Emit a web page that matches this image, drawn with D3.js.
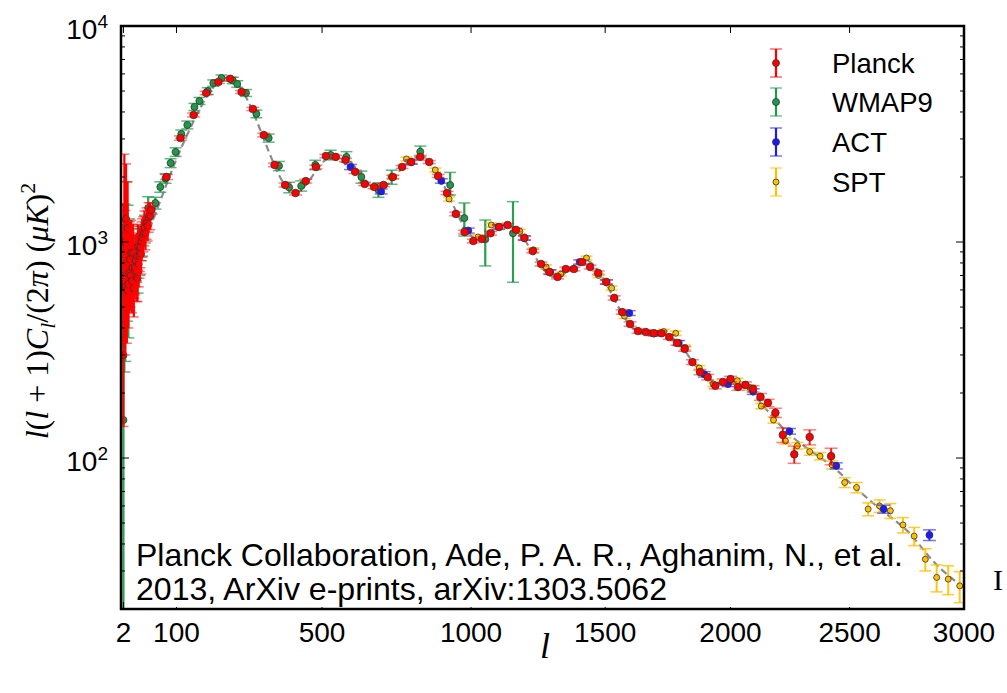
<html>
<head>
<meta charset="utf-8">
<title>CMB TT power spectrum</title>
<script src="https://d3js.org/d3.v7.min.js"></script>
<style>
  body { margin: 0; background: #fff; }
  svg { display: block; }
</style>
</head>
<body>
<div id="chart"></div>
<script>
  // ---- data ----
  // best-fit model curve
  const theoryL = [2, 4, 7, 10, 15, 20, 30, 40, 50, 60, 70, 80, 90, 100, 115, 130, 145, 160, 175, 190, 205, 220, 235, 250, 265, 280, 295, 310, 325, 340, 355, 370, 385, 400, 415, 430, 445, 460, 475, 490, 505, 520, 535, 550, 565, 580, 595, 610, 625, 640, 655, 670, 685, 700, 715, 730, 745, 760, 775, 790, 805, 820, 835, 850, 865, 880, 895, 910, 925, 940, 955, 970, 985, 1000, 1020, 1040, 1060, 1080, 1100, 1120, 1140, 1160, 1180, 1200, 1220, 1240, 1260, 1280, 1300, 1320, 1340, 1360, 1380, 1400, 1420, 1440, 1460, 1480, 1500, 1520, 1540, 1560, 1580, 1600, 1630, 1660, 1690, 1720, 1750, 1780, 1810, 1840, 1870, 1900, 1930, 1960, 1990, 2020, 2050, 2080, 2110, 2140, 2170, 2200, 2250, 2300, 2350, 2400, 2450, 2500, 2550, 2600, 2650, 2700, 2750, 2800, 2850, 2900, 2950, 3000]
  const theoryD = [1020, 880, 820, 800, 800, 830, 920, 1080, 1260, 1450, 1660, 1900, 2150, 2420, 2850, 3300, 3800, 4300, 4800, 5230, 5560, 5740, 5720, 5480, 5050, 4550, 4020, 3500, 3030, 2630, 2300, 2040, 1860, 1750, 1700, 1720, 1800, 1920, 2070, 2220, 2360, 2460, 2520, 2530, 2490, 2410, 2300, 2170, 2040, 1920, 1830, 1780, 1760, 1790, 1860, 1960, 2080, 2200, 2310, 2400, 2460, 2480, 2450, 2370, 2250, 2100, 1930, 1760, 1600, 1450, 1320, 1210, 1130, 1070, 1030, 1030, 1060, 1110, 1160, 1190, 1190, 1150, 1080, 1000, 910, 830, 760, 715, 690, 690, 710, 745, 780, 810, 825, 810, 770, 715, 650, 590, 530, 480, 440, 410, 385, 378, 378, 377, 368, 348, 318, 286, 258, 238, 226, 222, 222, 220, 213, 202, 188, 172, 157, 144, 127, 115, 105, 96, 87, 77, 69, 62, 56, 51, 46, 40, 34.5, 30.5, 27.5, 25]

  // Planck, low multipoles (asymmetric errors)
  const planckLowL = [2, 3, 4, 5, 6, 7, 8, 9, 10, 11, 12, 13, 14, 15, 16, 17, 18, 19, 20, 21, 22, 23, 24, 25, 26, 27, 28, 29, 30, 32, 34, 36, 38, 40, 42, 45]
  const planckLowD = [299, 1000, 620, 1280, 600, 1160, 640, 720, 830, 700, 890, 660, 760, 890, 610, 740, 760, 820, 690, 860, 680, 950, 790, 860, 920, 948, 880, 1010, 1050, 1090, 1161, 1100, 1220, 1190, 1300, 1319]
  const planckLowLo = [140, 420, 300, 700, 340, 700, 400, 470, 560, 480, 620, 470, 550, 650, 450, 550, 570, 620, 530, 660, 530, 740, 620, 680, 730, 760, 710, 820, 850, 900, 960, 920, 1030, 1010, 1110, 1140]
  const planckLowHi = [1500, 2550, 1400, 2300, 1050, 1900, 1050, 1120, 1240, 1030, 1260, 930, 1050, 1210, 820, 990, 1000, 1070, 900, 1100, 870, 1200, 1000, 1080, 1150, 1180, 1090, 1240, 1280, 1310, 1390, 1310, 1440, 1400, 1520, 1520]

  // Planck, binned
  const planckL = [47, 78, 109, 140, 171, 202, 233, 264, 295, 326, 357, 388, 419, 450, 481, 512, 543, 574, 605, 636, 667, 698, 729, 760, 791, 822, 853, 884, 915, 946, 977, 1008, 1039, 1070, 1101, 1132, 1163, 1194, 1225, 1256, 1287, 1318, 1349, 1380, 1411, 1442, 1473, 1504, 1535, 1566, 1597, 1628, 1659, 1690, 1721, 1752, 1783, 1814, 1845, 1876, 1907, 1938, 1969, 2000, 2031, 2062, 2093, 2124, 2155, 2186, 2217, 2265, 2330, 2421]
  const planckD = [1407, 2000, 3030, 3874, 4897, 5508, 5700, 4950, 4130, 3128, 2274, 1836, 1686, 1914, 2225, 2500, 2477, 2398, 2112, 1857, 1798, 1836, 2000, 2226, 2346, 2477, 2346, 2022, 1686, 1349, 1112, 1011, 1033, 1097, 1174, 1199, 1138, 1044, 908, 791, 726, 689, 750, 750, 808, 766, 719, 653, 551, 474, 417, 387, 383, 378, 378, 363, 341, 320, 278, 250, 237, 216, 225, 232, 213, 218, 209, 192, 180, 162, 128, 104, 125, 102]
  const planckErr = [60, 55, 70, 80, 90, 90, 90, 80, 70, 60, 45, 40, 35, 38, 42, 45, 45, 42, 38, 34, 32, 32, 34, 36, 38, 40, 38, 34, 30, 26, 22, 20, 20, 21, 22, 22, 21, 20, 18, 16, 15, 14, 15, 15, 16, 15, 15, 14, 12, 11, 10, 9, 9, 9, 9, 9, 8, 8, 7, 7, 7, 7, 7, 7, 7, 7, 7, 7, 7, 8, 10, 9.5, 10, 9]

  // WMAP9
  const wmapL = [2, 3, 4, 5, 6, 7, 8, 9, 10, 12, 14, 16, 18, 20, 22, 25, 27, 30, 35, 41, 55, 65, 76, 87, 98, 111, 125, 142, 154, 175, 189, 210, 240, 252, 276, 305, 340, 370, 400, 436, 479, 527, 577, 625, 681, 725, 822, 926, 976, 1051, 1152]
  const wmapD = [150, 700, 650, 1100, 760, 950, 560, 890, 720, 860, 800, 760, 850, 820, 720, 860, 990, 1020, 1150, 1438, 1516, 1798, 1970, 2322, 2612, 3165, 3483, 4220, 4500, 5000, 5446, 5740, 5600, 5390, 4900, 3918, 3030, 2250, 1790, 1817, 2274, 2528, 2477, 2000, 1742, 2000, 2620, 1836, 1291, 1030, 1097]
  const wmapLo = [5, 250, 280, 560, 430, 570, 360, 600, 500, 630, 600, 580, 660, 650, 580, 700, 820, 860, 990, 1270, 1420, 1700, 1870, 2210, 2490, 3030, 3340, 4060, 4330, 4820, 5260, 5550, 5410, 5200, 4720, 3760, 2900, 2140, 1690, 1720, 2160, 2400, 2340, 1870, 1610, 1850, 2480, 1650, 1066, 775, 651]
  const wmapHi = [1200, 1500, 1250, 1900, 1250, 1480, 850, 1280, 1020, 1150, 1050, 980, 1080, 1030, 900, 1050, 1180, 1200, 1330, 1620, 1610, 1900, 2070, 2430, 2730, 3300, 3630, 4380, 4670, 5180, 5630, 5930, 5790, 5580, 5080, 4080, 3160, 2360, 1890, 1920, 2390, 2660, 2620, 2130, 1880, 2150, 2780, 2100, 1516, 1264, 1538]

  // ACT
  const actL = [590, 690, 791, 895, 990, 1099, 1194, 1290, 1402, 1505, 1594, 1694, 1790, 1893, 1990, 2094, 2245, 2443, 2647, 2847]
  const actD = [2225, 1714, 2346, 1918, 1130, 1174, 1044, 726, 808, 653, 469, 378, 341, 244, 220, 203, 133, 92, 58, 44]
  const actErr = [60, 45, 55, 45, 30, 30, 25, 18, 18, 15, 12, 10, 9, 7, 6, 6, 4, 3, 2.5, 2.5]

  // SPT
  const sptL = [672, 730, 775, 874, 922, 1025, 1073, 1177, 1228, 1275, 1330, 1428, 1474, 1525, 1575, 1682, 1730, 1778, 1816, 1873, 1929, 2028, 2080, 2127, 2178, 2228, 2278, 2330, 2374, 2425, 2479, 2530, 2580, 2629, 2676, 2731, 2780, 2829, 2879, 2930, 2981]
  const sptD = [1800, 2000, 2424, 2154, 1582, 1055, 1199, 1120, 920, 766, 710, 843, 700, 612, 454, 378, 385, 378, 325, 261, 220, 228, 212, 174, 150, 120, 114, 107, 102, 93, 77, 73, 58, 60, 57, 49, 43.5, 34, 28, 27.5, 25.6]
  const sptErr = [45, 45, 50, 45, 35, 25, 25, 24, 20, 17, 15, 17, 15, 13, 11, 9, 9, 9, 8, 7, 6, 6, 6, 5, 5, 4, 4, 4, 4, 4, 4, 4, 4, 4, 4.5, 4, 4.2, 4, 4, 4.2, 4.2]

  const xTicks = [2, 100, 500, 1000, 1500, 2000, 2500, 3000]
  const yMajor = [100, 1000, 10000]
  const yExp = ["2", "3", "4"]
  const legendNames = ["Planck", "WMAP9", "ACT", "SPT"]
  const citation = ["Planck Collaboration, Ade, P. A. R., Aghanim, N., et al.", "2013, ArXiv e-prints, arXiv:1303.5062"]

  // ---- layout ----
  const W = 1007, H = 693
  const pLeft = 121, pRight = 964, pTop = 26, pBottom = 609

  const x = d3.scalePow().exponent(0.8).domain([0, 3000]).range([pLeft, pRight])
  const y = d3.scaleLog().domain([20, 10000]).range([pBottom, pTop])

  const col = { planck: "#ff0000", wmap: "#1f9a4a", act: "#1a1aff", spt: "#ffc000" }

  const svg = d3.select("#chart").append("svg")
    .attr("width", W).attr("height", H)
    .style("background", "#fff")

  svg.append("defs").append("clipPath").attr("id", "clip")
    .append("rect").attr("x", pLeft).attr("y", pTop)
    .attr("width", pRight - pLeft).attr("height", pBottom - pTop)

  const plot = svg.append("g").attr("clip-path", "url(#clip)")

  // model curve
  const line = d3.line().x(d => x(d[0])).y(d => y(d[1])).curve(d3.curveMonotoneX)
  plot.append("path")
    .datum(theoryL.map((l, i) => [l, theoryD[i]]))
    .attr("d", line)
    .attr("fill", "none")
    .attr("stroke", "#777")
    .attr("stroke-width", 2.2)
    .attr("stroke-dasharray", "7,4")
    .attr("opacity", 0.85)

  //誤差棒つきの点を描く
  function drawSet(pts, o) {
    const g = plot.append("g")
    const p = g.selectAll("g").data(pts).join("g")
    p.append("line")
      .attr("x1", d => x(d.l)).attr("x2", d => x(d.l))
      .attr("y1", d => y(Math.max(d.lo, 1))).attr("y2", d => y(d.hi))
      .attr("stroke", o.color).attr("stroke-width", o.lw).attr("opacity", o.lineOp)
    for (const k of ["lo", "hi"]) {
      p.append("line")
        .attr("x1", d => x(d.l) - o.cap).attr("x2", d => x(d.l) + o.cap)
        .attr("y1", d => y(Math.max(d[k], 1))).attr("y2", d => y(Math.max(d[k], 1)))
        .attr("stroke", o.color).attr("stroke-width", 1.5).attr("opacity", o.capOp)
    }
    if (o.r > 0) {
      p.append("circle")
        .attr("cx", d => x(d.l)).attr("cy", d => y(d.d)).attr("r", o.r)
        .attr("fill", o.color).attr("stroke", "#333").attr("stroke-width", 0.8)
    }
  }

  const sym = (L, D, E) => L.map((l, i) => ({ l: l, d: D[i], lo: D[i] - E[i], hi: D[i] + E[i] }))
  const asym = (L, D, Lo, Hi) => L.map((l, i) => ({ l: l, d: D[i], lo: Lo[i], hi: Hi[i] }))

  drawSet(asym(wmapL, wmapD, wmapLo, wmapHi), { color: col.wmap, lw: 2.2, cap: 6, lineOp: 0.95, capOp: 0.7, r: 3.5 })
  drawSet(sym(sptL, sptD, sptErr), { color: col.spt, lw: 2, cap: 6, lineOp: 0.9, capOp: 0.8, r: 3 })
  drawSet(sym(actL, actD, actErr), { color: col.act, lw: 2, cap: 6.5, lineOp: 0.9, capOp: 0.6, r: 3.5 })
  drawSet(asym(planckLowL, planckLowD, planckLowLo, planckLowHi), { color: col.planck, lw: 2.2, cap: 5, lineOp: 1, capOp: 0.55, r: 3.5 })
  drawSet(sym(planckL, planckD, planckErr), { color: col.planck, lw: 2, cap: 6.5, lineOp: 0.9, capOp: 0.5, r: 3.8 })

  // ---- axes ----
  const axisG = svg.append("g").attr("stroke", "#000")
  xTicks.forEach(t => {
    axisG.append("line").attr("x1", x(t)).attr("x2", x(t)).attr("y1", pBottom).attr("y2", pBottom - 7).attr("stroke-width", 1)
    axisG.append("line").attr("x1", x(t)).attr("x2", x(t)).attr("y1", pTop).attr("y2", pTop + 7).attr("stroke-width", 1)
  })
  const yMinor = []
  for (let e = 1; e <= 3; e++) {
    for (let m = 2; m <= 9; m++) {
      const v = m * Math.pow(10, e)
      if (v >= 20 && v < 10000) yMinor.push(v)
    }
  }
  yMinor.forEach(v => {
    axisG.append("line").attr("x1", pLeft).attr("x2", pLeft + 4).attr("y1", y(v)).attr("y2", y(v)).attr("stroke-width", 1)
    axisG.append("line").attr("x1", pRight).attr("x2", pRight - 4).attr("y1", y(v)).attr("y2", y(v)).attr("stroke-width", 1)
  })
  yMajor.forEach(v => {
    axisG.append("line").attr("x1", pLeft).attr("x2", pLeft + 8).attr("y1", y(v)).attr("y2", y(v)).attr("stroke-width", 1)
    axisG.append("line").attr("x1", pRight).attr("x2", pRight - 8).attr("y1", y(v)).attr("y2", y(v)).attr("stroke-width", 1)
  })

  svg.append("rect")
    .attr("x", pLeft).attr("y", pTop).attr("width", pRight - pLeft).attr("height", pBottom - pTop)
    .attr("fill", "none").attr("stroke", "#000").attr("stroke-width", 2.5)

  const tickFont = "Liberation Sans, Arial, sans-serif"
  svg.append("g").selectAll("text").data(xTicks).join("text")
    .attr("x", d => x(d)).attr("y", 642)
    .attr("text-anchor", "middle")
    .attr("font-family", tickFont).attr("font-size", 28)
    .text(d => d)

  yMajor.forEach((v, i) => {
    const t = svg.append("text")
      .attr("x", 108).attr("y", y(v) + 13)
      .attr("text-anchor", "end")
      .attr("font-family", tickFont).attr("font-size", 28)
    t.append("tspan").text("10")
    t.append("tspan").attr("dy", -11).attr("font-size", 19).text(yExp[i])
  })

  // y label  l(l+1)C_l/(2π) (μK)^2
  const ylab = svg.append("text")
    .attr("transform", "translate(48,311) rotate(-90)")
    .attr("text-anchor", "middle")
    .attr("font-family", "Liberation Serif, DejaVu Serif, serif")
    .attr("font-size", 32)
  const parts = [
    ["l", 1, 0], ["(", 0, 0], ["l", 1, 0], [" + ", 0, 0], ["1)", 0, 0], ["C", 1, 0], ["l", 1, 1],
    ["/(2", 0, 0], ["π", 1, 0], [")  (", 0, 0], ["μK", 1, 0], [")", 0, 0], ["2", 0, -1]
  ]
  let shift = 0
  parts.forEach(p => {
    const target = p[2] === 1 ? 7 : (p[2] === -1 ? -13 : 0)
    const ts = ylab.append("tspan").attr("dy", target - shift).text(p[0])
    shift = target
    if (p[1]) ts.attr("font-style", "italic")
    if (p[2] !== 0) ts.attr("font-size", 22)
  })

  svg.append("text")
    .attr("x", 545).attr("y", 658)
    .attr("text-anchor", "middle")
    .attr("font-family", "Liberation Serif, DejaVu Serif, serif")
    .attr("font-style", "italic").attr("font-size", 36)
    .text("l")

  // ---- legend ----
  const legendCols = [col.planck, col.wmap, col.act, col.spt]
  const legY = [63, 102, 142, 182]
  const leg = svg.append("g")
  legendNames.forEach((n, i) => {
    const cy = legY[i]
    leg.append("line").attr("x1", 776).attr("x2", 776).attr("y1", cy - 14).attr("y2", cy + 14)
      .attr("stroke", legendCols[i]).attr("stroke-width", 2.2)
    leg.append("line").attr("x1", 770).attr("x2", 782).attr("y1", cy - 14).attr("y2", cy - 14)
      .attr("stroke", legendCols[i]).attr("stroke-width", 1.6).attr("opacity", 0.55)
    leg.append("line").attr("x1", 770).attr("x2", 782).attr("y1", cy + 14).attr("y2", cy + 14)
      .attr("stroke", legendCols[i]).attr("stroke-width", 1.6).attr("opacity", 0.55)
    leg.append("circle").attr("cx", 776).attr("cy", cy).attr("r", i === 3 ? 3 : 3.5)
      .attr("fill", legendCols[i]).attr("stroke", "#333").attr("stroke-width", 0.8)
    leg.append("text").attr("x", 832).attr("y", cy + 10)
      .attr("font-family", tickFont).attr("font-size", 27.5)
      .text(n)
  })

  // ---- citation box ----
  svg.append("rect").attr("x", 130).attr("y", 535).attr("width", 775).attr("height", 72).attr("fill", "#fff")
  svg.append("text").attr("x", 136).attr("y", 566)
    .attr("font-family", tickFont).attr("font-size", 32)
    .attr("textLength", 767).attr("lengthAdjust", "spacingAndGlyphs")
    .text(citation[0])
  svg.append("text").attr("x", 136).attr("y", 600)
    .attr("font-family", tickFont).attr("font-size", 32)
    .attr("textLength", 531).attr("lengthAdjust", "spacingAndGlyphs")
    .text(citation[1])

  // stray glyph at the right edge
  svg.append("text").attr("x", 993).attr("y", 590)
    .attr("font-family", "Liberation Serif, serif").attr("font-size", 30)
    .text("I")
</script>
</body>
</html>
